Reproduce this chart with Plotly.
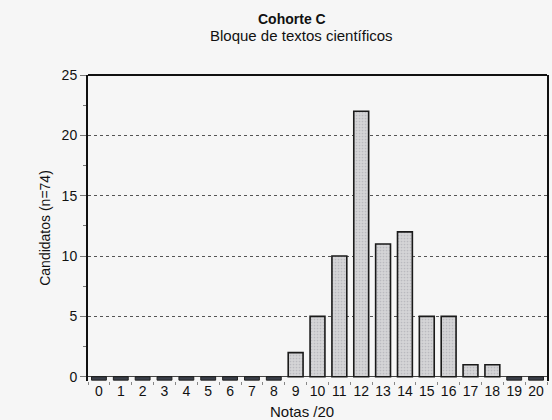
import plotly.graph_objects as go

notas = [str(i) for i in range(21)]
candidatos = [0, 0, 0, 0, 0, 0, 0, 0, 0, 2, 5, 10, 22, 11, 12, 5, 5, 1, 1, 0, 0]
y_ticks = [0, 5, 10, 15, 20, 25]

title = "Cohorte C"
subtitle = "Bloque de textos científicos"
x_title = "Notas /20"
y_title = "Candidatos (n=74)"

font = "Liberation Sans, Arial, sans-serif"
ymin = -0.35
fig = go.Figure()
fig.add_trace(go.Bar(
    x=notas, y=candidatos,
    width=0.68,
    marker=dict(color="#d4d4d6", line=dict(color="#1a1a1a", width=1.6),
                pattern=dict(shape=".", size=3, solidity=0.25, fgcolor="#a0a0a8")),
))
# empty classes drawn as thin dark slabs under the baseline, as in the source
zero_x = [n for n, c in zip(notas, candidatos) if c == 0]
fig.add_trace(go.Bar(
    x=zero_x, y=[-ymin * 0.8] * len(zero_x), base=ymin * 0.8,
    width=0.68, marker=dict(color="#3a3f4a", line=dict(color="#222", width=1)),
))
H, T, B = 420, 75, 39
ph = H - T - B
pw = 552 - 88 - 5
fig.update_layout(
    width=552, height=H,
    margin=dict(l=88, r=5, t=T, b=B, autoexpand=False),
    paper_bgcolor="#f6f6f6", plot_bgcolor="#f6f6f6",
    font=dict(family=font, size=14, color="#111"),
    showlegend=False, barmode="overlay",
    annotations=[
        dict(text="<b>%s</b>" % title, xref="paper", yref="paper", x=(292 - 88) / pw,
             y=1 + (T - 19) / ph, showarrow=False, xanchor="center", yanchor="middle",
             font=dict(size=14)),
        dict(text=subtitle, xref="paper", yref="paper", x=(301 - 88) / pw,
             y=1 + (T - 35) / ph, showarrow=False, xanchor="center", yanchor="middle",
             font=dict(size=15)),
        dict(text=x_title, xref="paper", yref="paper", x=(302 - 88) / pw,
             y=-(411 - (T + ph)) / ph, showarrow=False, xanchor="center", yanchor="middle",
             font=dict(size=15)),
    ],
)
fig.update_xaxes(
    type="category", tickvals=notas, ticktext=notas, range=[-0.5, 20.5],
    showgrid=False, showline=False, zeroline=False, tickangle=0,
    ticks="outside", tickson="boundaries", ticklen=3, tickcolor="#888",
    tickfont=dict(size=14),
)
fig.update_yaxes(
    range=[ymin, 25], tickvals=y_ticks,
    title=dict(text=y_title, standoff=8, font=dict(size=14)),
    showgrid=True, gridcolor="#555", griddash="dot", gridwidth=1,
    zeroline=True, zerolinecolor="#444", zerolinewidth=1,
    showline=True, linecolor="#111", linewidth=2, mirror=True,
    ticks="outside", ticklen=6, tickcolor="#777",
    minor=dict(dtick=2.5, ticks="outside", ticklen=3, tickcolor="#777", showgrid=False),
    tickfont=dict(size=14),
)
fig.add_shape(type="line", xref="paper", yref="paper", x0=0, x1=1, y0=1, y1=1,
              line=dict(color="#111", width=2))
fig.write_html("out.html", config={"displayModeBar": False},
               post_script="document.body.style.margin='0';")
